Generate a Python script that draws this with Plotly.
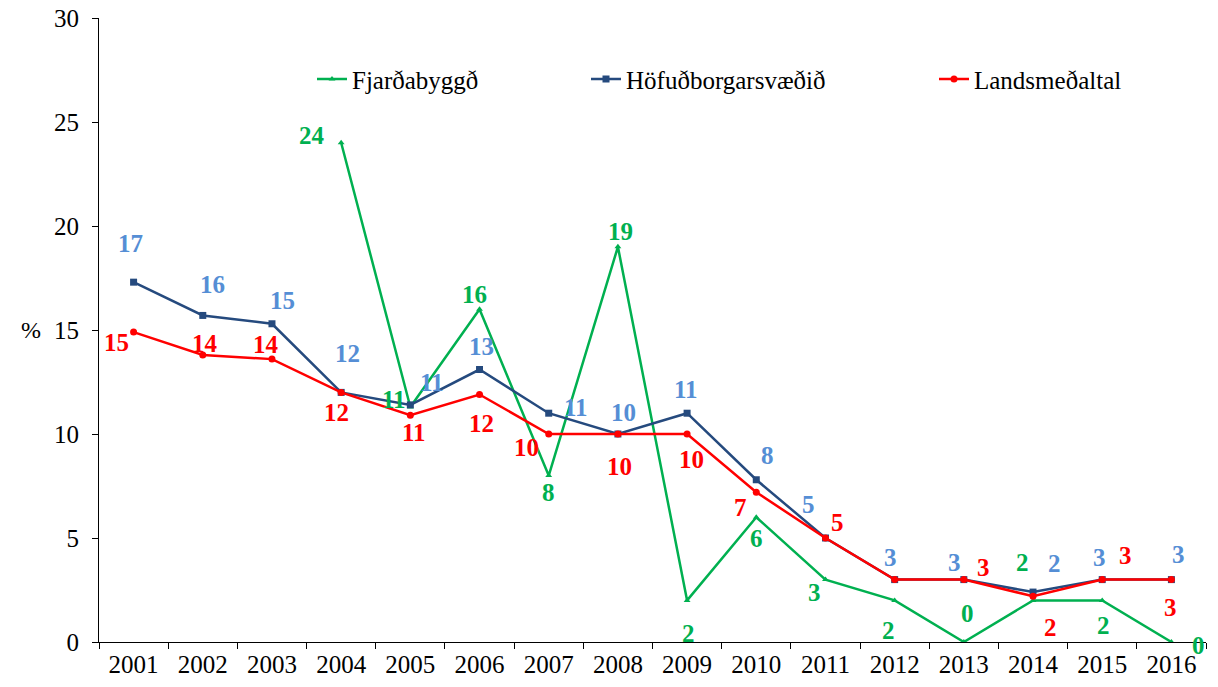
import plotly.graph_objects as go

years = [str(y) for y in range(2001, 2017)]

fjardabyggd_years = years[3:]
fjardabyggd = [24.0, 11.3, 16.0, 8.0, 19.0, 2.0, 6.0, 3.0, 2.0, 0.0, 2.0, 2.0, 0.0]
fjardabyggd_labels = ["24", "11", "16", "8", "19", "2", "6", "3", "2", "0", "2", "2", "0"]

hofud = [17.3, 15.7, 15.3, 12.0, 11.4, 13.1, 11.0, 10.0, 11.0, 7.8, 5.0, 3.0, 3.0, 2.4, 3.0, 3.0]
hofud_labels = ["17", "16", "15", "12", "11", "13", "11", "10", "11", "8", "5", "3", "3", "2", "3", "3"]

lands = [14.9, 13.8, 13.6, 12.0, 10.9, 11.9, 10.0, 10.0, 10.0, 7.2, 5.0, 3.0, 3.0, 2.2, 3.0, 3.0]
lands_labels = ["15", "14", "14", "12", "11", "12", "10", "10", "10", "7", "5", "", "3", "2", "3", "3"]

# label offsets (pixels) relative to each point
hofud_off = [(-3, 39), (10, 31), (11, 23), (6, 39), (22, 22), (2, 23), (27, 6), (6, 22),
             (-1, 24), (11, 24), (-17, 34), (-4, 22), (-9, 17), (21, 29), (-3, 22), (7, 25)]
lands_off = [(-17, -10), (2, 11), (-6, 15), (-5, -20), (4, -17), (2, -29), (-22, -13), (2, -32),
             (4, -25), (-16, -15), (12, 16), (0, 0), (20, 12), (17, -31), (23, 24), (-1, -28)]
fjard_off = [(-29, 7), (-16, 7), (-5, 15), (0, -17), (3, 15), (1, -33), (0, -21), (-11, -13),
             (-6, -30), (4, 29), (-11, 38), (1, -25), (27, -3)]

GREEN = "#00B050"
NAVY = "#254A7E"
LBLUE = "#558ED5"
RED = "#FF0000"
FONT = "Times New Roman, Liberation Serif, serif"

fig = go.Figure()
fig.add_trace(go.Scatter(x=fjardabyggd_years, y=fjardabyggd, name="Fjarðabyggð", mode="lines+markers",
                         line=dict(color=GREEN, width=2.5),
                         marker=dict(symbol="triangle-up", size=6, color=GREEN), legend="legend"))
fig.add_trace(go.Scatter(x=years, y=hofud, name="Höfuðborgarsvæðið", mode="lines+markers",
                         line=dict(color=NAVY, width=2.5),
                         marker=dict(symbol="square", size=7, color=NAVY), legend="legend2"))
fig.add_trace(go.Scatter(x=years, y=lands, name="Landsmeðaltal", mode="lines+markers",
                         line=dict(color=RED, width=2.5),
                         marker=dict(symbol="circle", size=7, color=RED), legend="legend3"))

def add_labels(xs, ys, labels, offs, color):
    for x, y, t, (dx, dy) in zip(xs, ys, labels, offs):
        if not t:
            continue
        fig.add_annotation(x=years.index(x), y=y, text="<b>" + t + "</b>", showarrow=False,
                           xshift=dx, yshift=dy,
                           font=dict(family=FONT, size=25, color=color))

add_labels(years, hofud, hofud_labels, hofud_off, LBLUE)
add_labels(years, lands, lands_labels, lands_off, RED)
add_labels(fjardabyggd_years, fjardabyggd, fjardabyggd_labels, fjard_off, GREEN)

fig.add_annotation(xref="paper", yref="paper", x=-0.072, y=0.5, text="%", showarrow=False,
                   font=dict(family=FONT, size=24, color="black"))

legend_common = dict(orientation="h", yanchor="middle", y=0.902, xanchor="left",
                     font=dict(family=FONT, size=25, color="black"), bgcolor="rgba(0,0,0,0)",
                     itemwidth=30)
fig.update_layout(
    width=1210, height=679,
    margin=dict(l=91, r=12, t=10, b=45, autoexpand=False),
    paper_bgcolor="white", plot_bgcolor="white",
    font=dict(family=FONT),
    showlegend=True,
    legend=dict(x=(312 - 99) / 1107, **legend_common),
    legend2=dict(x=(586 - 99) / 1107, **legend_common),
    legend3=dict(x=(934 - 99) / 1107, **legend_common),
    xaxis=dict(type="category", categoryorder="array", categoryarray=years, range=[-0.5, 15.5],
               showline=True, linecolor="black", linewidth=1,
               ticks="outside", tickson="boundaries", ticklen=6, tickcolor="black",
               showgrid=False, automargin=False, ticklabeloverflow="allow",
               tickfont=dict(family=FONT, size=25, color="black")),
    yaxis=dict(range=[0, 30], dtick=5, showline=True, linecolor="black", linewidth=1,
               ticks="outside", ticklen=6, tickcolor="black", showgrid=False, zeroline=False,
               automargin=False, ticklabeloverflow="allow", ticklabelstandoff=8,
               tickfont=dict(family=FONT, size=25, color="black")),
)

fig.write_html("out.html")
